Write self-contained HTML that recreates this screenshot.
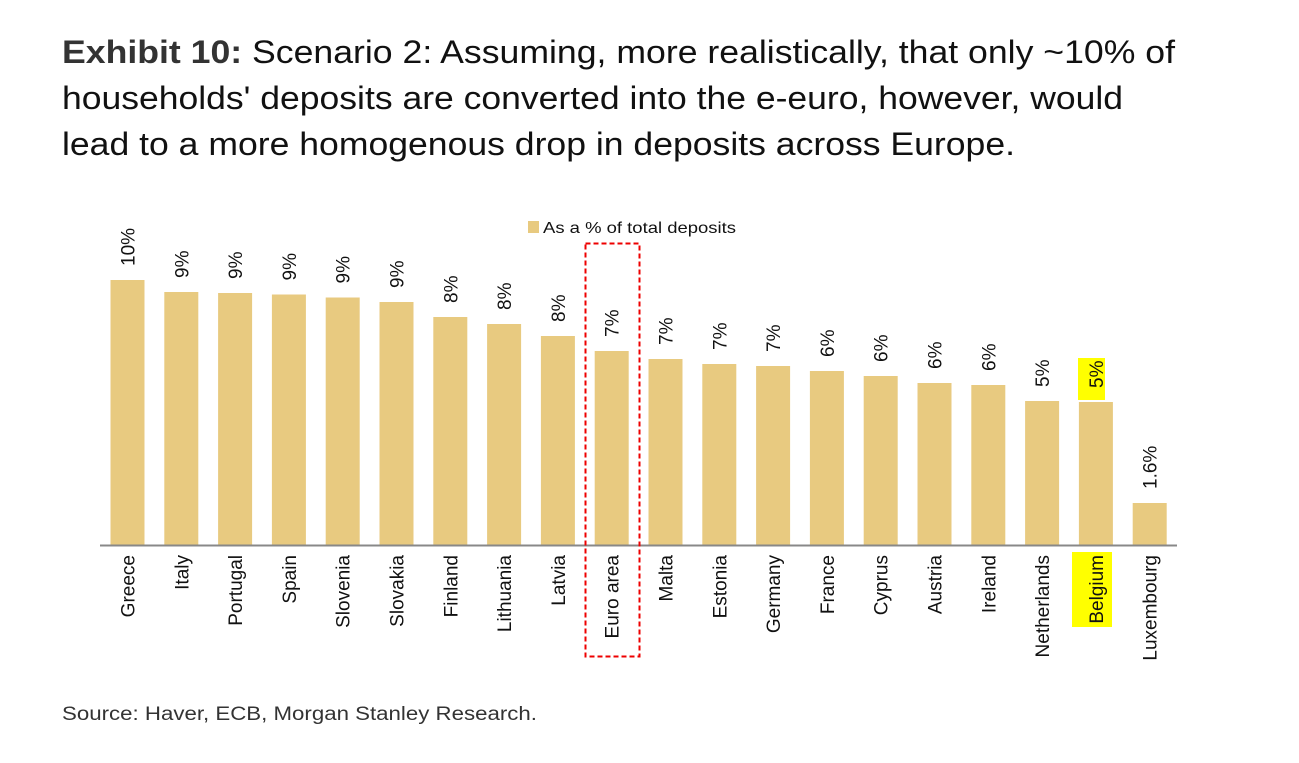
<!DOCTYPE html>
<html><head><meta charset="utf-8"><style>
html,body{margin:0;padding:0;background:#fff;}
svg{display:block;}
</style></head><body>
<svg width="1299" height="763" xmlns="http://www.w3.org/2000/svg" font-family="Liberation Sans, Arial, sans-serif">
<g font-size="32" fill="#111">
<text x="62" y="63" textLength="1113" lengthAdjust="spacingAndGlyphs"><tspan font-weight="bold" fill="#333">Exhibit 10:</tspan>  Scenario 2: Assuming, more realistically, that only ~10% of</text>
<text x="62" y="109" textLength="1061" lengthAdjust="spacingAndGlyphs">households' deposits are converted into the e-euro, however, would</text>
<text x="62" y="155" textLength="953" lengthAdjust="spacingAndGlyphs">lead to a more homogenous drop in deposits across Europe.</text>
</g>
<rect x="528" y="221" width="11" height="12" fill="#e8ca80"/>
<text x="543" y="233" font-size="16" fill="#111" textLength="193" lengthAdjust="spacingAndGlyphs">As a % of total deposits</text>
<rect x="1078" y="358" width="27" height="42" fill="#ffff00"/>
<rect x="1072" y="552" width="40" height="75" fill="#ffff00"/>
<g id="bars" fill="#e8ca80"></g>
<line x1="100" y1="545.5" x2="1177" y2="545.5" stroke="#888" stroke-width="2"/>
<rect x="585.5" y="243.5" width="54" height="413" fill="none" stroke="#e00" stroke-width="2" stroke-dasharray="5,3"/>
<g id="labels" font-size="19" fill="#111"></g>
<text x="62" y="720" font-size="19" fill="#333" textLength="475" lengthAdjust="spacingAndGlyphs">Source: Haver, ECB, Morgan Stanley Research.</text>
<script>
var d=[["Greece",280,"10%"],["Italy",292,"9%"],["Portugal",293,"9%"],["Spain",294.5,"9%"],["Slovenia",297.5,"9%"],["Slovakia",302,"9%"],["Finland",317,"8%"],["Lithuania",324,"8%"],["Latvia",336,"8%"],["Euro area",351,"7%"],["Malta",359,"7%"],["Estonia",364,"7%"],["Germany",366,"7%"],["France",371,"6%"],["Cyprus",376,"6%"],["Austria",383,"6%"],["Ireland",385,"6%"],["Netherlands",401,"5%"],["Belgium",402,"5%"],["Luxembourg",503,"1.6%"]];
var ns="http://www.w3.org/2000/svg",b=document.getElementById("bars"),l=document.getElementById("labels");
d.forEach(function(e,i){
 var x=110.5+i*53.8;
 var r=document.createElementNS(ns,"rect");r.setAttribute("x",x);r.setAttribute("y",e[1]);r.setAttribute("width",34);r.setAttribute("height",545-e[1]);b.appendChild(r);
 var cx=x+17+7;
 var t=document.createElementNS(ns,"text");t.setAttribute("transform","translate("+cx+","+(e[1]-14)+") rotate(-90)");t.textContent=e[2];l.appendChild(t);
 var c=document.createElementNS(ns,"text");c.setAttribute("transform","translate("+cx+",555) rotate(-90)");c.setAttribute("text-anchor","end");c.textContent=e[0];l.appendChild(c);
});
</script>
</svg>
</body></html>
